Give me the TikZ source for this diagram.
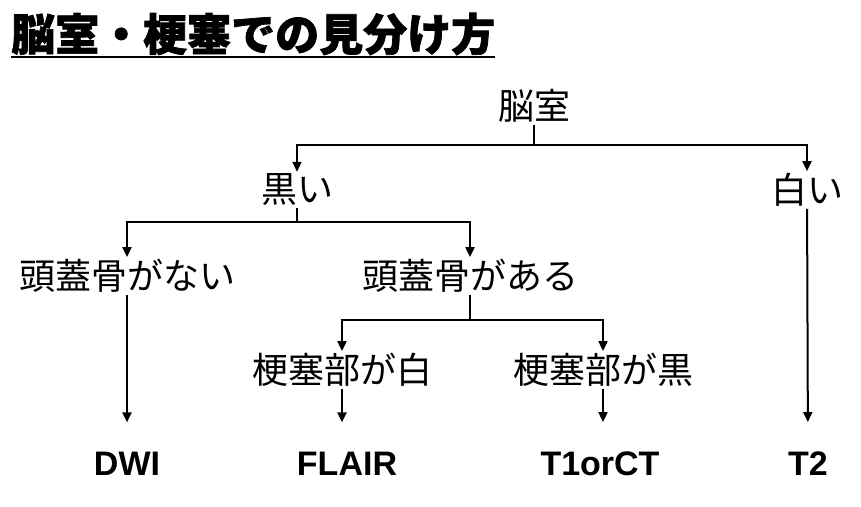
\documentclass[tikz,border=0pt]{standalone}
\usepackage{fontspec}
\setmainfont{Liberation Sans}
\newfontfamily\cjk{Noto Sans CJK JP}
\newfontfamily\cjktitle[BoldFeatures={FakeBold=1.6}]{Noto Sans CJK JP}
\usetikzlibrary{arrows.meta}

\begin{document}
\begin{tikzpicture}[x=1pt,y=-1pt,
  every node/.style={inner sep=2pt},
  jp label/.style={font=\cjk\fontsize{36}{36}\selectfont},
  mod label/.style={font=\bfseries\fontsize{34}{34}\selectfont,anchor=base},
  branch/.style={line width=2pt},
  pointer/.style={line width=2pt,-{Triangle[length=10pt,width=9pt]}}]

  \useasboundingbox (0,0) rectangle (861,506);

  % title

  \node [font=\cjktitle\bfseries\fontsize{44}{44}\selectfont,inner sep=0pt,anchor=west]
    (title) at (11,34) {脳室・梗塞での見分け方};
  \draw [line width=2pt] ([yshift=-2pt]title.south west) -- ([yshift=-2pt]title.south east);

  % decision nodes

  \node [jp label] (vent) at (534,106) {脳室};
  \node [jp label] (dark) at (297,190) {黒い};
  \node [jp label] (bright) at (807,190) {白い};
  \node [jp label] (noskull) at (127,276) {頭蓋骨がない};
  \node [jp label] (skull) at (470,276) {頭蓋骨がある};
  \node [jp label] (infw) at (342,370) {梗塞部が白};
  \node [jp label] (infb) at (603,370) {梗塞部が黒};

  % sequences

  \node [mod label] (dwi) at (127,475) {DWI};
  \node [mod label] (flair) at (347,475) {FLAIR};
  \node [mod label] (t1ct) at (600,475) {T1orCT};
  \node [mod label] (t2) at (808,475) {T2};

  % branching bars

  \coordinate (vent-bar) at (534,145);
  \coordinate (dark-bar) at (297,222);
  \coordinate (skull-bar) at (470,320);

  \draw [branch] (vent) -- (vent-bar);
  \draw [pointer] (vent-bar) -| (dark);
  \draw [pointer] (vent-bar) -| (bright);

  \draw [branch] (dark) -- (dark-bar);
  \draw [pointer] (dark-bar) -| (noskull);
  \draw [pointer] (dark-bar) -| (skull);

  \draw [branch] (skull) -- (skull-bar);
  \draw [pointer] (skull-bar) -| (infw);
  \draw [pointer] (skull-bar) -| (infb);

  % to the sequences

  \draw [pointer,shorten >=27pt] (noskull) -- (dwi);
  \draw [pointer,shorten >=27pt] (infw) -- (infw |- flair.north);
  \draw [pointer,shorten >=27pt] (infb) -- (infb |- t1ct.north);
  \draw [pointer,shorten >=27pt] (bright) -- (t2);
\end{tikzpicture}
\end{document}
